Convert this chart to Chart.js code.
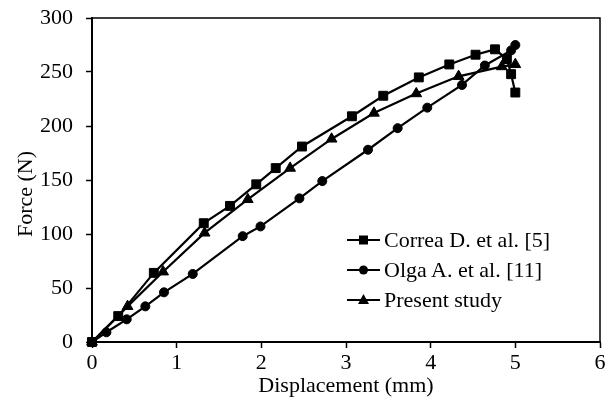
<!DOCTYPE html>
<html>
<head>
<meta charset="utf-8">
<script src="https://cdn.jsdelivr.net/npm/chart.js@4.4.0/dist/chart.umd.min.js"></script>
<style>
  html, body { margin: 0; padding: 0; background: #fff; }
  #wrap { position: relative; width: 614px; height: 405px; }
  #legenda { position: absolute; left: 347px; top: 225px; font-family: "Liberation Serif", "Times New Roman", serif; font-size: 22px; color: #000; }
  .item { display: flex; align-items: center; height: 30px; white-space: nowrap; }
  .item svg { margin-right: 4px; }
</style>
</head>
<body>
<div id="wrap">
  <canvas id="grafico" width="614" height="405"></canvas>
  <div id="legenda">
    <div class="item"><svg width="33" height="14"><line x1="0" y1="7" x2="33" y2="7" stroke="#000" stroke-width="2"/><rect x="12" y="2.5" width="9" height="9" fill="#000"/></svg>Correa D. et al. [5]</div>
    <div class="item"><svg width="33" height="14"><line x1="0" y1="7" x2="33" y2="7" stroke="#000" stroke-width="2"/><circle cx="16.5" cy="7" r="4.5" fill="#000"/></svg>Olga A. et al. [11]</div>
    <div class="item"><svg width="33" height="14"><line x1="0" y1="7" x2="33" y2="7" stroke="#000" stroke-width="2"/><polygon points="16.5,1 22,11 11,11" fill="#000"/></svg>Present study</div>
  </div>
</div>
<script>
// dados
const correaX = [0, 0.31, 0.73, 1.32, 1.63, 1.94, 2.17, 2.48, 3.07, 3.44, 3.86, 4.22, 4.53, 4.76, 4.9, 4.95, 5.0];
const correaY = [0, 24, 64, 110, 126, 146, 161, 181, 209, 228, 245, 257, 266, 271, 262, 248, 231];

const olgaX = [0, 0.17, 0.41, 0.63, 0.85, 1.19, 1.78, 1.99, 2.45, 2.72, 3.26, 3.61, 3.96, 4.37, 4.64, 4.95, 5.0];
const olgaY = [0, 9, 21, 33, 46, 63, 98, 107, 133, 149, 178, 198, 217, 238, 256, 270, 275];

const presentX = [0, 0.42, 0.84, 1.33, 1.84, 2.34, 2.83, 3.33, 3.83, 4.33, 4.84, 5.0];
const presentY = [0, 33, 65, 101, 132, 161, 188, 212, 230, 246, 255, 257];

const xTicks = [0, 1, 2, 3, 4, 5, 6];
const yTicks = [0, 50, 100, 150, 200, 250, 300];

const seriesLabels = ['Correa D. et al. [5]', 'Olga A. et al. [11]', 'Present study'];

function pontos(xs, ys) {
    return xs.map((x, i) => ({ x: x, y: ys[i] }));
}

const fonte = { family: '"Liberation Serif", "Times New Roman", serif', size: 22 };

function serie(label, xs, ys, estilo, raio) {
    return {
        label: label,
        data: pontos(xs, ys),
        showLine: true,
        borderColor: '#000',
        backgroundColor: '#000',
        borderWidth: 2.2,
        pointStyle: estilo,
        pointRadius: raio,
        pointBorderWidth: 1,
        pointBorderColor: '#000',
        pointBackgroundColor: '#000',
        tension: 0,
        clip: false
    };
}

// moldura (topo e direita) + título do eixo y
const moldura = {
    id: 'moldura',
    afterDraw(chart) {
        const { ctx, chartArea } = chart;
        ctx.save();
        ctx.strokeStyle = '#000';
        ctx.lineWidth = 1.5;
        ctx.beginPath();
        ctx.moveTo(chartArea.left, chartArea.top);
        ctx.lineTo(chartArea.right, chartArea.top);
        ctx.lineTo(chartArea.right, chartArea.bottom);
        ctx.stroke();

        ctx.translate(26, 194);
        ctx.rotate(-Math.PI / 2);
        ctx.font = '22px "Liberation Serif", "Times New Roman", serif';
        ctx.fillStyle = '#000';
        ctx.textAlign = 'center';
        ctx.textBaseline = 'middle';
        ctx.fillText('Force (N)', 0, 0);
        ctx.restore();
    }
};

new Chart(document.getElementById('grafico').getContext('2d'), {
    type: 'scatter',
    data: {
        datasets: [
            serie(seriesLabels[0], correaX, correaY, 'rect', 6.3),
            serie(seriesLabels[1], olgaX, olgaY, 'circle', 4.5),
            serie(seriesLabels[2], presentX, presentY, 'triangle', 6.2)
        ]
    },
    options: {
        responsive: false,
        animation: false,
        layout: { padding: { top: 18, right: 14, left: 0, bottom: 0 } },
        plugins: {
            legend: { display: false },
            tooltip: { enabled: false }
        },
        scales: {
            x: {
                type: 'linear',
                min: 0,
                max: 6,
                afterBuildTicks: (s) => { s.ticks = xTicks.map(v => ({ value: v })); },
                afterFit: (s) => { s.height = 63; s.paddingLeft = 0; s.paddingRight = 0; },
                ticks: { color: '#000', font: fonte, padding: 2, maxRotation: 0 },
                grid: { drawOnChartArea: false, drawTicks: true, tickLength: 6, tickWidth: 1.5, color: '#000' },
                border: { color: '#000', width: 2 },
                title: { display: true, text: 'Displacement (mm)', color: '#000', font: fonte, padding: { top: 0, bottom: 6 } }
            },
            y: {
                type: 'linear',
                min: 0,
                max: 300,
                afterBuildTicks: (s) => { s.ticks = yTicks.map(v => ({ value: v })); },
                afterFit: (s) => { s.width = 92; s.paddingTop = 0; s.paddingBottom = 0; },
                ticks: { color: '#000', font: fonte, padding: 13 },
                grid: { drawOnChartArea: false, drawTicks: true, tickLength: 6, tickWidth: 1.5, color: '#000' },
                border: { color: '#000', width: 2 },
                title: { display: false }
            }
        }
    },
    plugins: [moldura]
});
</script>
</body>
</html>
